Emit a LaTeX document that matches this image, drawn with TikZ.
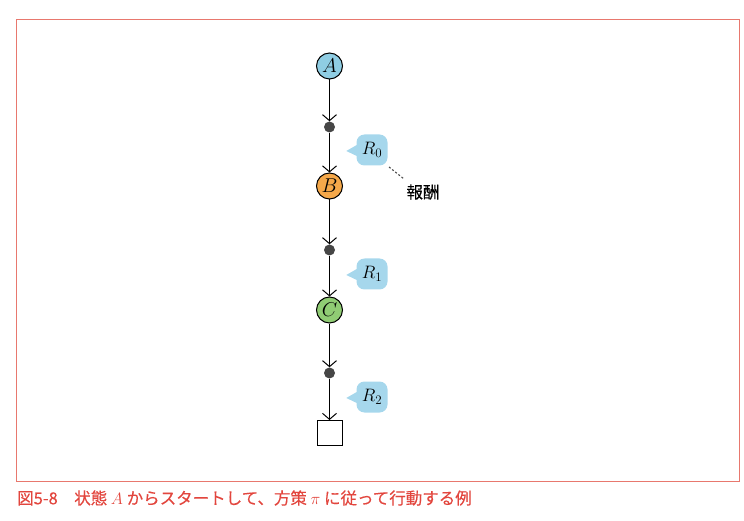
\RequirePackage{fix-cm}
\documentclass[tikz,border=0pt]{standalone}
\usepackage{fontspec}
\newfontfamily\cjk{Noto Sans CJK JP}[FakeBold=0.3]
\usetikzlibrary{arrows.meta,calc}
\definecolor{frameRed}{RGB}{232,120,110}
\definecolor{capRed}{RGB}{226,70,62}
\definecolor{aBlue}{RGB}{143,205,227}
\definecolor{bOrange}{RGB}{245,168,74}
\definecolor{cGreen}{RGB}{144,204,116}
\definecolor{bubble}{RGB}{166,215,236}
\definecolor{dotGray}{RGB}{70,70,70}
\newcommand{\subsz}[1]{\mbox{\fontsize{13}{15}\selectfont$#1$}}
\tikzset{
  state/.style={circle,draw=black,line width=1pt,minimum size=26pt,inner sep=0pt,font=\fontsize{20}{23}\selectfont},
  dotn/.style={circle,fill=dotGray,minimum size=11pt,inner sep=0pt},
  term/.style={rectangle,draw=black,line width=1pt,fill=white,minimum size=25pt,inner sep=0pt},
  rbox/.style={rectangle,rounded corners=8pt,fill=bubble,minimum size=31pt,inner sep=0pt,font=\fontsize{18}{21}\selectfont},
  flow/.style={line width=1pt,-{Straight Barb[length=6pt,width=14pt,line width=1pt]}},
  plain/.style={line width=1pt}
}
\begin{document}
\begin{tikzpicture}[x=1pt,y=-1pt]
\useasboundingbox (0,0) rectangle (744,521);
\draw[frameRed,line width=1pt] (16,20) rectangle (739,481);
% states
\node[state,fill=aBlue] (A) at (329.5,66) {$A$};
\node[dotn] (d1) at (329.5,127) {};
\node[state,fill=bOrange] (B) at (329.5,186) {$B$};
\node[dotn] (d2) at (329.5,250) {};
\node[state,fill=cGreen] (C) at (329.5,310) {$C$};
\node[dotn] (d3) at (329.5,373) {};
\node[term] (T) at (329.5,433) {};
% connectors
\draw[flow] (A) -- (d1);
\draw[flow] (d1) -- (B);
\draw[flow] (B) -- (d2);
\draw[flow] (d2) -- (C);
\draw[flow] (C) -- (d3);
\draw[flow] (d3) -- (T);
% reward bubbles
\foreach \n/\y/\s in {r0/150/0, r1/274/1, r2/397/2}{
  \node[rbox] (\n) at (372,\y) {$R_{\subsz{\s}}$};
  \fill[bubble] ($(\n.west)+(0.5,-5)$) -- ($(\n.west)+(-10,1)$) -- ($(\n.west)+(0.5,6)$) -- cycle;
}
% reward label
\node[font=\cjk\fontsize{16.5}{19}\selectfont] (rw) at (423,192) {報酬};
\coordinate (dA) at (389,167);
\coordinate (dB) at (404,179);
\draw[dotGray,line width=1.1pt,dash pattern=on 2pt off 2pt] (dA) -- (dB);
% caption
\node[anchor=west,text=capRed,font=\cjk\fontsize{16.5}{19}\selectfont,inner sep=0pt] (cap) at (17,498) {図5-8　状態 $A$ からスタートして、方策 $\pi$ に従って行動する例};
\end{tikzpicture}
\end{document}
